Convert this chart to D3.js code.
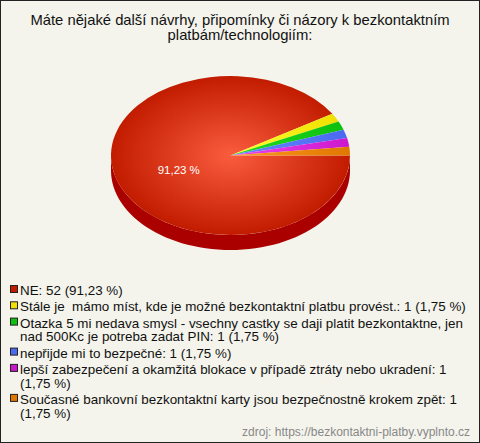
<!DOCTYPE html>
<html><head><meta charset="utf-8">
<script src="https://cdn.jsdelivr.net/npm/d3@7"></script>
<style>
html,body{margin:0;padding:0;background:#f4f4ec;}
svg{display:block;font-family:"Liberation Sans",Arial,sans-serif;}
</style></head>
<body>
<svg id="chart" width="480" height="443"></svg>
<script>
const titleLines = ["Máte nějaké další návrhy, připomínky či názory k bezkontaktním", "platbám/technologiím:"];
const categories = [
  "NE",
  "Stále je  mámo míst, kde je možné bezkontaktní platbu provést.",
  "Otazka 5 mi nedava smysl - vsechny castky se daji platit bezkontaktne, jen nad 500Kc je potreba zadat PIN",
  "nepřijde mi to bezpečné",
  "lepší zabezpečení a okamžitá blokace v případě ztráty nebo ukradení",
  "Současné bankovní bezkontaktní karty jsou bezpečnostně krokem zpět"
];
const counts = [52, 1, 1, 1, 1, 1];
const percents = ["91,23 %", "1,75 %", "1,75 %", "1,75 %", "1,75 %", "1,75 %"];
const colorsLight = ["#fa5c3e", "#ffff33", "#22dd22", "#6688ff", "#ee44ee", "#ff9922"];
const colorsDark  = ["#c21c00", "#f0e000", "#0fc00f", "#4a6af0", "#cc18cc", "#e07800"];
const sideColors  = ["#aa0000", "#c8b400", "#0a900a", "#3050c0", "#a010a0", "#b05a00"];
const sourceText = "zdroj: https://bezkontaktni-platby.vyplnto.cz";

const W = 480, H = 443;
const svg = d3.select("#chart");
svg.append("rect").attr("x",0.5).attr("y",0.5).attr("width",W-1).attr("height",H-1)
  .attr("fill","#f4f4ec").attr("stroke","#222").attr("stroke-width",1);

// title
svg.append("text").attr("x",240).attr("y",25).attr("text-anchor","middle")
  .attr("font-size",14.8).attr("fill","#111")
  .selectAll("tspan").data(titleLines).join("tspan")
  .attr("x",240).attr("dy",(d,i)=>i?15:0).text(d=>d);

// pie geometry
const cx = 230.5, cy = 155.5, rx = 119.5, ry = 79.5, depth = 15;
const pie = d3.pie().sort(null).value(d=>d)
  .startAngle(Math.PI/2).endAngle(Math.PI/2 + 2*Math.PI);
const arcs = pie(counts);

const defs = svg.append("defs");
colorsLight.forEach((c,i)=>{
  const g = defs.append("radialGradient").attr("id","g"+i)
    .attr("gradientUnits","userSpaceOnUse").attr("cx",0).attr("cy",0).attr("r",rx);
  g.append("stop").attr("offset","0%").attr("stop-color",c);
  g.append("stop").attr("offset","100%").attr("stop-color",colorsDark[i]);
});

// side (front half only)
const pt = (a, dy) => [cx + rx*Math.sin(a), cy - ry*Math.cos(a) + dy];
const sideG = svg.append("g");
arcs.forEach((a,i)=>{
  [0, 2*Math.PI].forEach(off=>{
    const s = Math.max(a.startAngle, Math.PI/2 + off), e = Math.min(a.endAngle, 3*Math.PI/2 + off);
    if (e <= s) return;
    const n = 60, top = [], bot = [];
    for (let k=0;k<=n;k++){ const t = s + (e-s)*k/n; top.push(pt(t,0)); bot.push(pt(t,depth)); }
    const pts = top.concat(bot.reverse());
    sideG.append("path").attr("d", d3.line()(pts)+"Z").attr("fill", sideColors[i]);
  });
});

// top face
const arc = d3.arc().innerRadius(0).outerRadius(rx);
const topG = svg.append("g").attr("transform",`translate(${cx},${cy}) scale(1,${ry/rx})`);
topG.selectAll("path").data(arcs).join("path")
  .attr("d", arc).attr("fill",(d,i)=>`url(#g${i})`);

// label for big slice
arcs.forEach((a,i)=>{
  if (counts[i]/d3.sum(counts) < 0.1) return;
  const m = (a.startAngle + a.endAngle)/2, f = 0.45;
  svg.append("text").attr("x", cx + rx*f*Math.sin(m)).attr("y", cy - ry*f*Math.cos(m) + 9)
    .attr("text-anchor","middle").attr("font-size",11.5).attr("fill","#fff").text(percents[i]);
});

// legend
const legend = svg.append("g");
const maxW = 449, lineH = 13.7, gap = 2.6;
let y = 295;
categories.forEach((c,i)=>{
  const full = `${c}: ${counts[i]} (${percents[i]})`;
  legend.append("rect").attr("x",10.5).attr("y",y-9.5).attr("width",7).attr("height",7)
    .attr("fill",colorsDark[i]).attr("stroke","#222").attr("stroke-width",1);
  const t = legend.append("text").attr("font-size",13.4).attr("fill","#111").style("white-space","pre");
  const words = full.split(" ");
  let line = "", ly = y;
  let ts = t.append("tspan").attr("x",20).attr("y",ly);
  words.forEach((w,k)=>{
    const test = line ? line + " " + w : w;
    ts.text(test);
    if (ts.node().getComputedTextLength() > maxW && line){
      ts.text(line);
      ly += lineH;
      line = w;
      ts = t.append("tspan").attr("x",20).attr("y",ly).text(w);
    } else line = test;
  });
  y = ly + lineH + gap;
});

svg.append("text").attr("x",470).attr("y",436).attr("text-anchor","end")
  .attr("font-size",12).attr("fill","#888").text(sourceText);
</script>
</body></html>
